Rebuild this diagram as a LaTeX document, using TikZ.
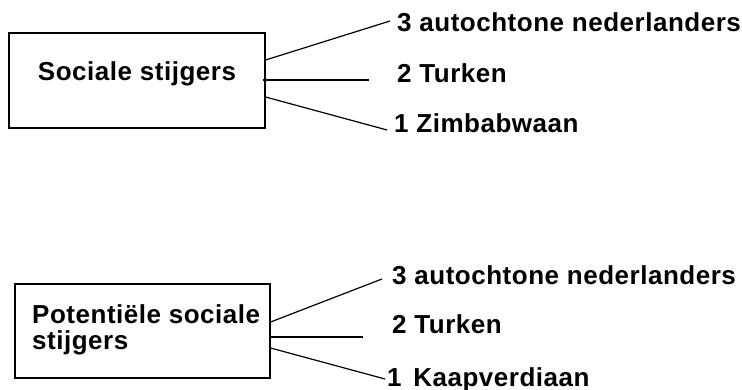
\documentclass[tikz,border=0pt]{standalone}
\usepackage{fontspec}
\setmainfont{Liberation Sans}[LetterSpace=2]
\begin{document}
\begin{tikzpicture}[x=1pt,y=-1pt,
  boxst/.style={draw=black,line width=1.2pt,fill=white,inner sep=0pt},
  txt/.style={font=\bfseries\fontsize{26}{25}\selectfont,inner sep=0pt},
  conn/.style={draw=black,line width=1.2pt}]
\useasboundingbox[fill=white] (0,0) rectangle (742,390);
% top group
\node[boxst,minimum width=256pt,minimum height=95pt] (b1) at (137,80.5) {};
\node[txt,anchor=base] (t1) at (137,81) {Sociale stijgers};
\node[txt,anchor=base west] (a1) at (397,32) {3 autochtone nederlanders};
\node[txt,anchor=base west] (a2) at (397,83) {2 Turken};
\node[txt,anchor=base west] (a3) at (394,133) {1 Zimbabwaan};
\coordinate (e1) at (390,21);
\coordinate (e2) at (369,80);
\coordinate (e3) at (387,130);
\draw[conn] ([yshift=20.5pt]b1.east) -- (e1);
\draw[conn] ([xshift=-3pt,yshift=0.5pt]b1.east) -- (e2);
\draw[conn] ([yshift=-16.5pt]b1.east) -- (e3);
% bottom group
\node[boxst,minimum width=255pt,minimum height=94pt] (b2) at (142.5,331) {};
\node[txt,anchor=north west,align=left] (t2) at (32,304) {Potentiële sociale\\[1pt]stijgers};
\node[txt,anchor=base west] (c1) at (392,285) {3 autochtone nederlanders};
\node[txt,anchor=base west] (c2) at (392,334) {2 Turken};
\node[txt,anchor=base west] (c3) at (387,386) {1\hspace{0.45em}Kaapverdiaan};
\coordinate (f1) at (382,279);
\coordinate (f2) at (363,337);
\coordinate (f3) at (385,379);
\draw[conn] ([yshift=9pt]b2.east) -- (f1);
\draw[conn] ([yshift=-6pt]b2.east) -- (f2);
\draw[conn] ([yshift=-17pt]b2.east) -- (f3);
\end{tikzpicture}
\end{document}
